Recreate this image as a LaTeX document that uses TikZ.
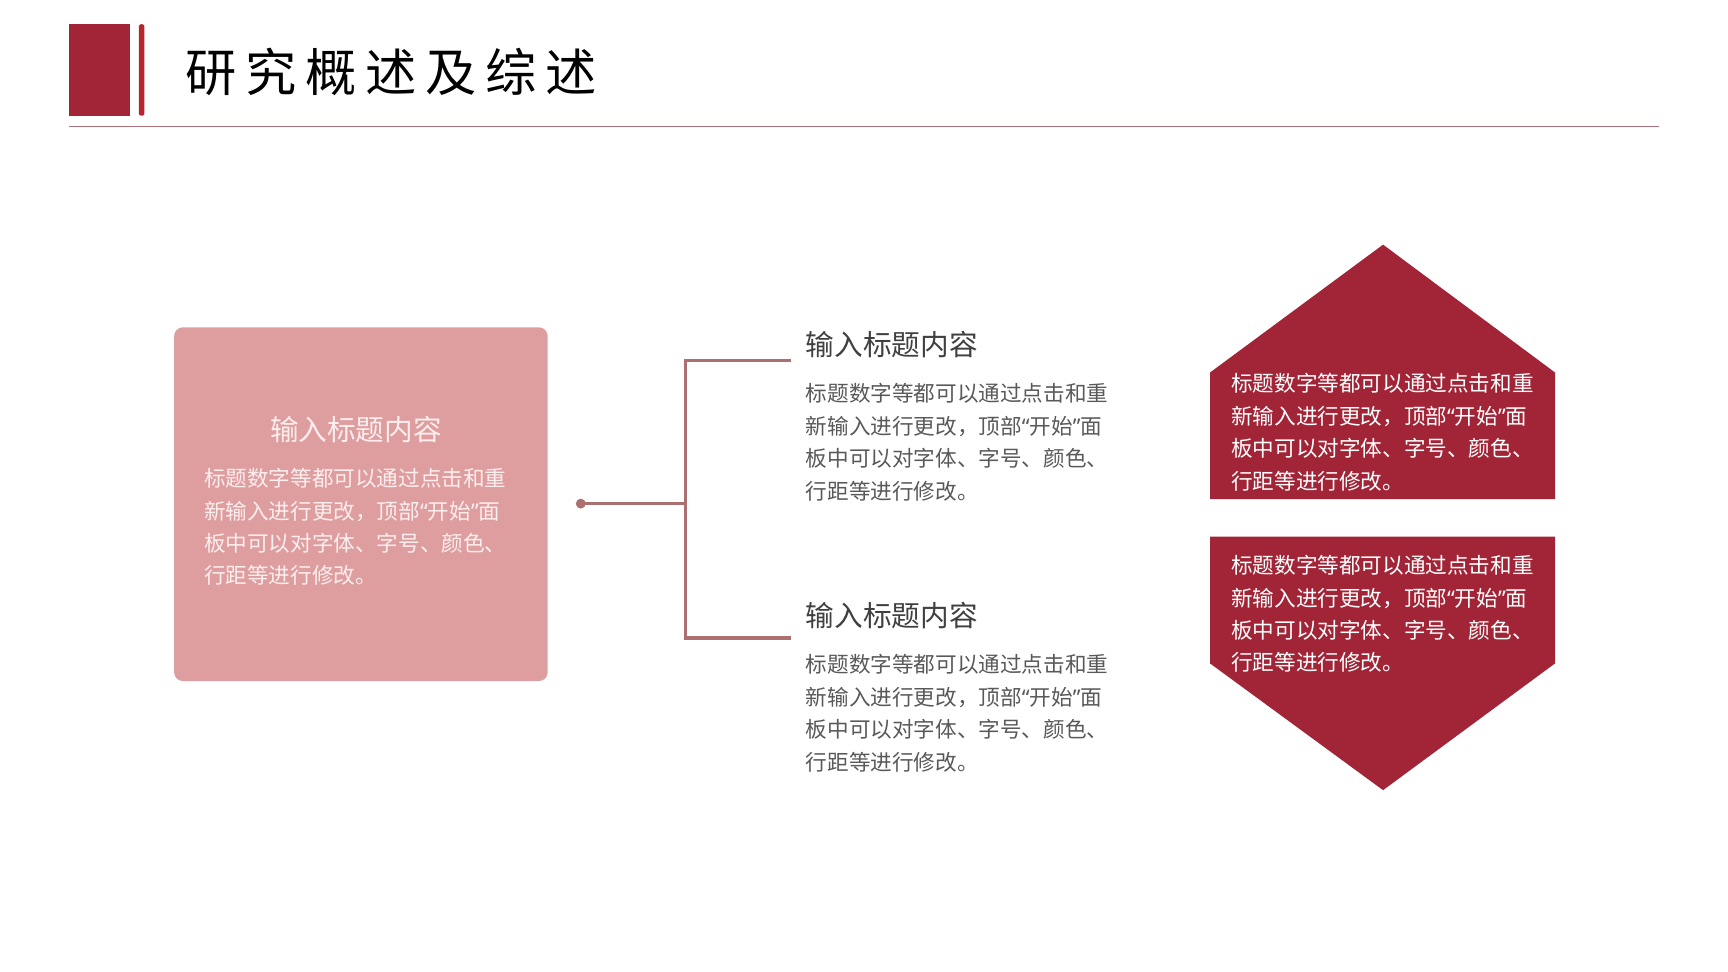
\documentclass[tikz,border=0pt]{standalone}
\usepackage{fontspec}
\newfontfamily\cjk{Noto Sans CJK SC}
\newfontfamily\latq{Noto Sans}
\newfontfamily\cjktitle[LetterSpace=17]{Noto Sans CJK SC}
\definecolor{darkred}{RGB}{161,37,55}
\definecolor{barred}{RGB}{180,40,45}
\definecolor{pinkbox}{RGB}{222,158,160}
\definecolor{connc}{RGB}{172,112,112}
\definecolor{headline}{RGB}{176,112,120}
\definecolor{titlegrey}{RGB}{64,64,64}
\definecolor{bodygrey}{RGB}{89,89,89}
\definecolor{boxtext}{RGB}{252,238,238}
\tikzset{
  bodytext/.style={inner sep=0pt, anchor=north west, align=left,
    font=\cjk\fontsize{19.6}{29.4}\selectfont},
  headtext/.style={inner sep=0pt, font=\cjk\fontsize{26}{30}\selectfont},
  conn/.style={draw=connc, line width=3pt},
}
\newcommand{\firststrut}{\rule{0pt}{0.9em}}
\newcommand{\bodypara}{\firststrut 标题数字等都可以通过点击和重\\新输入进行更改，顶部{\latq “}开始{\latq ”}面\\板中可以对字体、字号、颜色、\\行距等进行修改。}
\begin{document}
\begin{tikzpicture}[x=1pt,y=-1pt]
\useasboundingbox (0,0) rectangle (1568,882);
\fill[white] (0,0) rectangle (1568,882);
% header
\fill[darkred] (63,22) rectangle (118,105);
\fill[barred, rounded corners=2pt] (126,22) rectangle (131,105);
\draw[headline, line width=1.3pt] (63,115) -- (1505,115);
\node[inner sep=0pt, anchor=base west, font=\cjktitle\fontsize{46.5}{50}\selectfont, text=black] (title) at (168,83) {研究概述及综述};
% left box
\fill[pinkbox, rounded corners=8pt] (158,297) rectangle (497,618);
\node[headtext, anchor=base, text=boxtext] (lefthead) at (323,399.9) {输入标题内容};
\node[bodytext, text=boxtext] (leftbody) at (185,423.8) {\bodypara};
% connector
\node[circle, fill=connc, inner sep=0pt, minimum size=9pt] (dot) at (527,457) {};
\coordinate (jmid) at (622,457);
\coordinate (jtop) at (622,327);
\coordinate (jbot) at (622,579);
\coordinate (etop) at (718,327);
\coordinate (ebot) at (718,579);
\draw[conn] (dot.center) -- (jmid);
\draw[conn, line join=miter] (etop) -- (jtop) -- (jbot) -- (ebot);
% middle texts
\node[headtext, anchor=base west, text=titlegrey] (midhead1) at (731,322.9) {输入标题内容};
\node[bodytext, text=bodygrey] (midbody1) at (731,346.8) {\bodypara};
\node[headtext, anchor=base west, text=titlegrey] (midhead2) at (731,568.9) {输入标题内容};
\node[bodytext, text=bodygrey] (midbody2) at (731,592.8) {\bodypara};
% hexagon halves
\fill[darkred] (1098,453) -- (1098,338) -- (1255,222) -- (1411,338) -- (1411,453) -- cycle;
\fill[darkred] (1098,487) -- (1411,487) -- (1411,602) -- (1255,717) -- (1098,602) -- cycle;
\node[bodytext, text=white] (hexbody1) at (1117,337.8) {\bodypara};
\node[bodytext, text=white] (hexbody2) at (1117,502.8) {\bodypara};
\end{tikzpicture}
\end{document}
